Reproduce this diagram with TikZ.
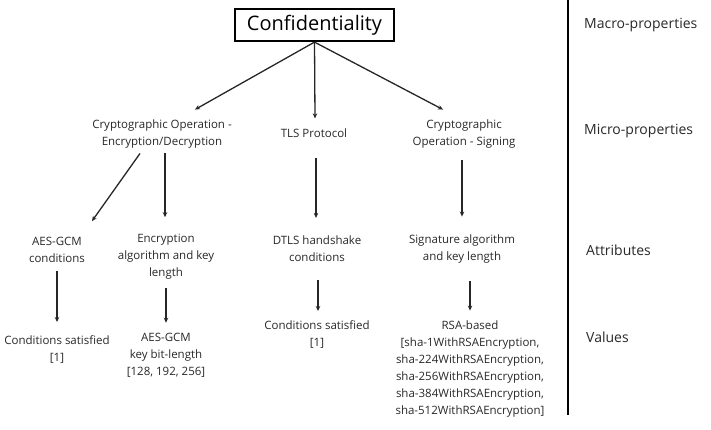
\documentclass[tikz,border=0pt]{standalone}
\usepackage{fontspec}
\setmainfont{Open Sans}
\usetikzlibrary{arrows.meta,calc,positioning}
\definecolor{txtgray}{RGB}{40,40,40}
\tikzstyle{arrow} = [line width=1.3pt,-{Stealth[length=5pt,width=4.5pt]},color=black!85]
\tikzstyle{item} = [align=center,inner sep=0pt,text=txtgray,font=\fontsize{11.5}{17}\selectfont]
\tikzstyle{level} = [anchor=west,inner sep=0pt,text=txtgray,font=\fontsize{14}{17}\selectfont]

\begin{document}
\begin{tikzpicture}[x=1pt,y=-1pt]
\useasboundingbox (0,0) rectangle (711,429);
% Root
\node[draw,line width=2.2pt,minimum width=159pt,minimum height=32pt,inner sep=0pt,
  font=\fontsize{20}{24}\selectfont] (conf) at (314.5,25) {Confidentiality};

% Micro-properties
\node[item] (enc) at (162,134) {Cryptographic Operation -\\Encryption/Decryption};
\node[item] (tls) at (314,133) {TLS Protocol};
\node[item] (sign) at (464,134) {Cryptographic\\Operation - Signing};

% Attributes
\node[item] (aes) at (57,250) {AES-GCM\\conditions};
\node[item] (encalg) at (166,257) {Encryption\\algorithm and key\\length};
\node[item] (dtls) at (317,249) {DTLS handshake\\conditions};
\node[item] (sigalg) at (462,249) {Signature algorithm\\and key length};

% Values
\node[item] (cond1) at (57,350) {Conditions satisfied\\{[1]}};
\node[item] (keylen) at (166,355) {AES-GCM\\key bit-length\\{[128, 192, 256]}};
\node[item] (cond2) at (317,335) {Conditions satisfied\\{[1]}};
\node[item] (rsa) at (470,369) {RSA-based\\{[sha-1WithRSAEncryption,}\\sha-224WithRSAEncryption,\\sha-256WithRSAEncryption,\\sha-384WithRSAEncryption,\\sha-512WithRSAEncryption]};

% Connectors
\draw[arrow] (conf.south) -- ($(enc.north)+(33,-10)$);
\draw[arrow] (conf.south) -- ($(tls.north)+(1,-10)$);
\draw[arrow] (conf.south) -- ($(sign.north)+(-21,-10)$);
\draw[arrow] ($(enc.south)+(-22,5)$) -- ($(aes.north)+(35,-16)$);
\draw[arrow] ($(enc.south)+(3,5)$) -- ($(encalg.north)+(-1,-17)$);
\draw[arrow] ($(tls.south)+(2,20)$) -- ($(dtls.north)+(-1,-18)$);
\draw[arrow] ($(sign.south)+(-2,12)$) -- ($(sigalg.north)+(0,-18)$);
\draw[arrow] ($(aes.south)+(0,8)$) -- ($(cond1.north)+(0,-14)$);
\draw[arrow] ($(encalg.south)+(0,8)$) -- ($(keylen.north)+(0,-10)$);
\draw[arrow] ($(dtls.south)+(1,18)$) -- ($(cond2.north)+(1,-10)$);
\draw[arrow] ($(sigalg.south)+(8,18)$) -- ($(rsa.north)+(0,-10)$);

% Level column
\draw[line width=2.5pt] (568,0) -- (568,415);
\node[level] (macro) at (584,25) {Macro-properties};
\node[level] (micro) at (584,131) {Micro-properties};
\node[level] (attr) at (586,250) {Attributes};
\node[level] (vals) at (586,337) {Values};
\end{tikzpicture}
\end{document}
